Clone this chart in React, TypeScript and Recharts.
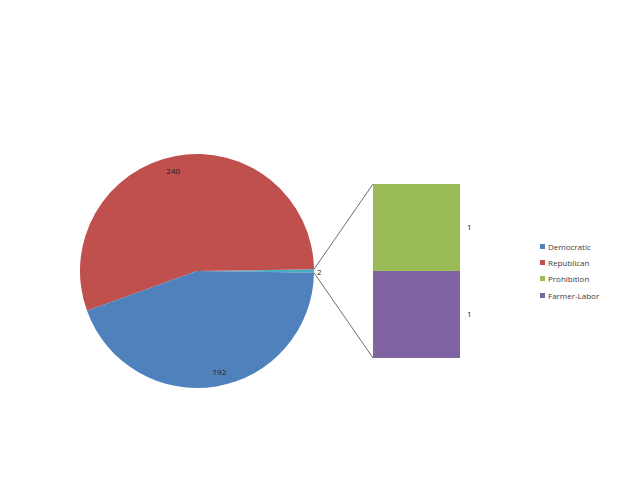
import { PieChart, Pie, Cell, BarChart, Bar, XAxis, YAxis, LabelList, Legend } from 'recharts';

// pie slices: the two small parties are grouped as "Other" in the pie
const pieNames = ['Other', 'Republican', 'Democratic'];
const pieValues = [2, 240, 192];
const pieColors = ['#4BACC6', '#C0504D', '#4F81BD'];

// breakdown of "Other" shown in the bar (bottom first)
const barNames = ['Farmer-Labor', 'Prohibition'];
const barValues = [1, 1];
const barColors = ['#8064A2', '#9BBB59'];

const legendNames = ['Democratic', 'Republican', 'Prohibition', 'Farmer-Labor'];
const legendColors = ['#4F81BD', '#C0504D', '#9BBB59', '#8064A2'];

const W = 640;
const H = 480;
const CX = 197;
const CY = 271;
const R = 117;
const FONT = '"Open Sans", "Liberation Sans", sans-serif';

const pieData = pieNames.map((name, i) => ({ name, value: pieValues[i] }));
const total = pieValues.reduce((a, b) => a + b, 0);
const otherHalf = (pieValues[0] / total) * 360 / 2;

const barRow: Record<string, string | number> = { name: 'Other' };
barNames.forEach((n, i) => { barRow[n] = barValues[i]; });
const barData = [barRow];

const RAD = Math.PI / 180;
const edgeTop = { x: CX + R * Math.cos(otherHalf * RAD), y: CY - R * Math.sin(otherHalf * RAD) };
const edgeBot = { x: CX + R * Math.cos(otherHalf * RAD), y: CY + R * Math.sin(otherHalf * RAD) };

const renderPieLabel = (props: any) => {
  const { midAngle, value, index } = props;
  const isOther = index === 0;
  const rr = isOther ? R + 3 : R * 0.88;
  const ang = isOther ? midAngle : midAngle + 3;
  const x = CX + rr * Math.cos(-ang * RAD);
  const y = CY + rr * Math.sin(-ang * RAD);
  return (
    <text x={x} y={y} fill="#222" fontSize={8} fontFamily={FONT}
      textAnchor={isOther ? 'start' : 'middle'} dominantBaseline="central">
      {value}
    </text>
  );
};

const makeShape = (fill: string, top: boolean) => (props: any) => {
  const { x, y, width, height } = props;
  const target = top ? { x, y } : { x, y: y + height };
  const from = top ? edgeTop : edgeBot;
  return (
    <g>
      <rect x={x} y={y} width={width} height={height} fill={fill} />
      <line x1={from.x} y1={from.y} x2={target.x} y2={target.y} stroke="#6f6f6f" strokeWidth={1} />
    </g>
  );
};

const LegendContent = () => (
  <div style={{ fontFamily: FONT, fontSize: 8, color: '#404040' }}>
    {legendNames.map((n, i) => (
      <div key={n} style={{ display: 'flex', alignItems: 'center', height: 16.3 }}>
        <span style={{ width: 5, height: 5, background: legendColors[i], marginRight: 3, display: 'inline-block' }} />
        {n}
      </div>
    ))}
  </div>
);

export default function App() {
  return (
    <div style={{ position: 'absolute', left: 0, top: 0, width: W, height: H, background: '#fff' }}>
      <div style={{ position: 'absolute', left: 0, top: 0 }}>
        <PieChart width={W} height={H} margin={{ top: 0, right: 0, bottom: 0, left: 0 }}>
          <Pie
            data={pieData}
            dataKey="value"
            nameKey="name"
            cx={CX}
            cy={CY}
            outerRadius={R}
            startAngle={-otherHalf}
            endAngle={360 - otherHalf}
            stroke="none"
            label={renderPieLabel}
            labelLine={false}
            isAnimationActive={false}
          >
            {pieData.map((d, i) => <Cell key={d.name} fill={pieColors[i]} />)}
          </Pie>
          <Legend content={<LegendContent />} layout="vertical"
            wrapperStyle={{ position: 'absolute', left: 540, top: 238, width: 90 }} />
        </PieChart>
      </div>
      <div style={{ position: 'absolute', left: 0, top: 0, pointerEvents: 'none' }}>
        <BarChart width={W} height={H} data={barData}
          margin={{ top: 184, right: W - 460, bottom: H - 358, left: 373 }}
          barCategoryGap={0}>
          <XAxis dataKey="name" hide />
          <YAxis hide domain={[0, 2]} />
          {barNames.map((n, i) => (
            <Bar key={n} dataKey={n} stackId="a" fill={barColors[i]}
              shape={makeShape(barColors[i], i === barNames.length - 1)}
              isAnimationActive={false}>
              <LabelList dataKey={n} position="right" offset={7} fill="#222" fontSize={8} fontFamily={FONT} />
            </Bar>
          ))}
        </BarChart>
      </div>
    </div>
  );
}
